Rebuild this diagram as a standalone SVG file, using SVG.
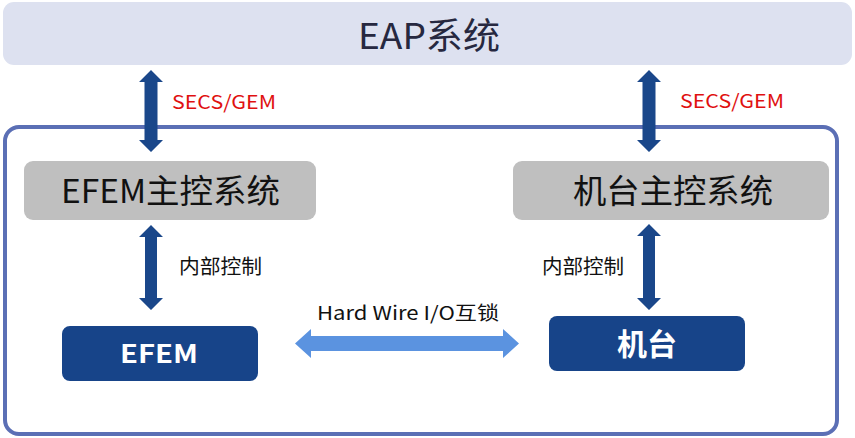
<svg xmlns="http://www.w3.org/2000/svg" width="855" height="438" viewBox="0 0 855 438">
<style>
.t{font-family:"Noto Sans CJK SC","Noto Sans",sans-serif;}
.sys{fill:#bfbfbf;}
.dev{fill:#174489;}
.va{fill:#1a478a;}
.red{fill:#e01010;font-size:19px;}
.lbl{fill:#111;font-size:20px;}
</style>
<rect width="855" height="438" fill="#fff"/>
<g id="eap">
<rect x="3" y="2" width="849" height="63" rx="11" fill="#dde1f0"/>
<text class="t" x="358" y="49" font-size="36" fill="#262840" textLength="142" lengthAdjust="spacingAndGlyphs">EAP系统</text>
</g>
<g id="frame">
<rect x="5" y="127" width="832" height="307" rx="14" fill="none" stroke="#5b6fb5" stroke-width="4"/>
</g>
<g id="efem-ctrl">
<rect class="sys" x="24" y="161" width="292" height="59" rx="9"/>
<text class="t" x="61" y="203" font-size="33" fill="#111" textLength="219" lengthAdjust="spacingAndGlyphs">EFEM主控系统</text>
</g>
<g id="tool-ctrl">
<rect class="sys" x="513" y="161" width="316" height="59" rx="9"/>
<text class="t" x="573" y="203" font-size="33" fill="#111" textLength="200" lengthAdjust="spacingAndGlyphs">机台主控系统</text>
</g>
<g id="efem">
<rect class="dev" x="62" y="326" width="196" height="55" rx="8"/>
<text class="t" x="120" y="363" font-size="25" font-weight="bold" fill="#fff" textLength="78" lengthAdjust="spacingAndGlyphs">EFEM</text>
</g>
<g id="tool">
<rect class="dev" x="549" y="316" width="196" height="55" rx="8"/>
<text class="t" x="617" y="355" font-size="30" font-weight="bold" fill="#fff" textLength="60" lengthAdjust="spacingAndGlyphs">机台</text>
</g>
<g id="connectors">
<path class="va" d="M151 70 L163 82 L157.5 82 L157.5 140 L163 140 L151 152 L139 140 L144.5 140 L144.5 82 L139 82 Z"/>
<path class="va" d="M649 70 L661 82 L655.5 82 L655.5 140 L661 140 L649 152 L637 140 L642.5 140 L642.5 82 L637 82 Z"/>
<path class="va" d="M151 225 L163 237 L157 237 L157 298 L163 298 L151 310 L139 298 L145 298 L145 237 L139 237 Z"/>
<path class="va" d="M649 224 L661 236 L655 236 L655 298 L661 298 L649 310 L637 298 L643 298 L643 236 L637 236 Z"/>
<path fill="#5b93e0" d="M295 343.5 L311 329 L311 336 L503 336 L503 329 L519 343.5 L503 358 L503 351 L311 351 L311 358 Z"/>
<text class="t red" x="172" y="109" textLength="104" lengthAdjust="spacingAndGlyphs">SECS/GEM</text>
<text class="t red" x="680" y="108" textLength="104" lengthAdjust="spacingAndGlyphs">SECS/GEM</text>
<text class="t lbl" x="179" y="274" textLength="83" lengthAdjust="spacingAndGlyphs">内部控制</text>
<text class="t lbl" x="542" y="274" textLength="82" lengthAdjust="spacingAndGlyphs">内部控制</text>
<text class="t" x="317" y="320" font-size="19" fill="#111" textLength="182" lengthAdjust="spacingAndGlyphs">Hard Wire I/O互锁</text>
</g>
</svg>
